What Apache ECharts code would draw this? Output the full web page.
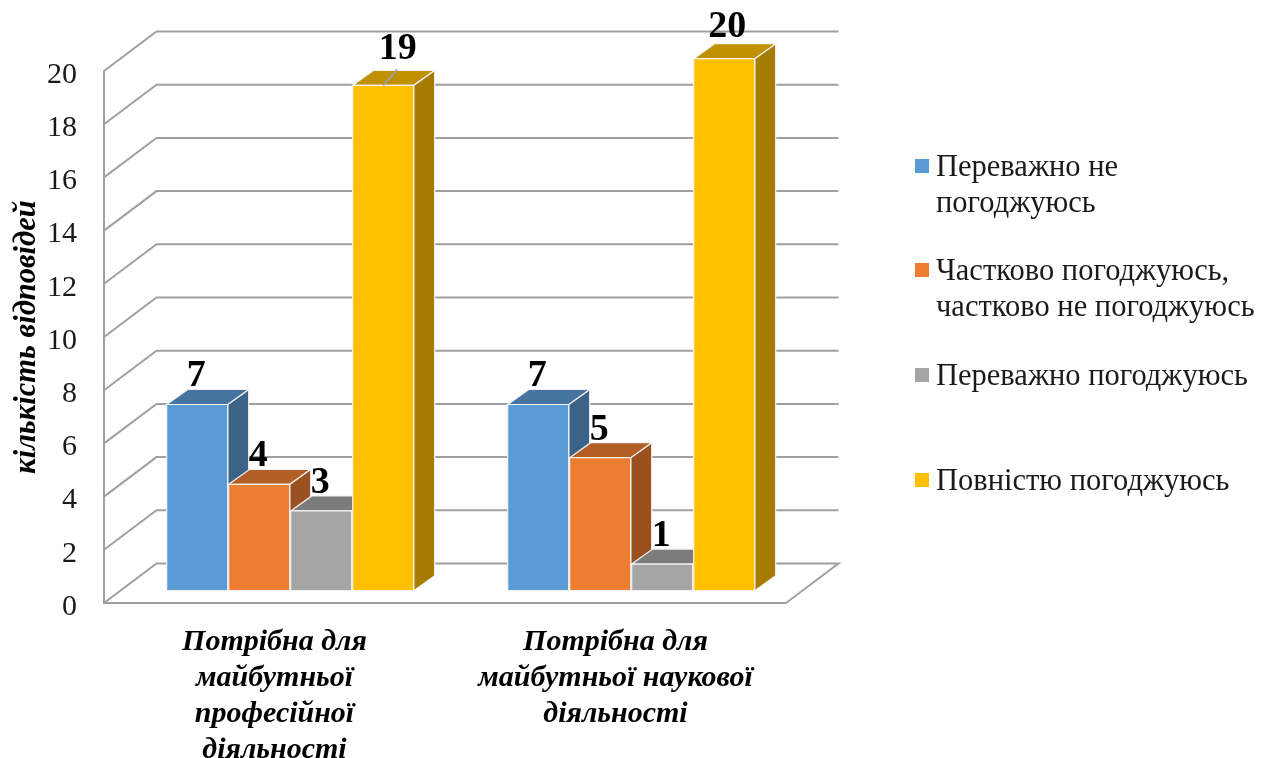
<!DOCTYPE html>
<html>
<head>
<meta charset="utf-8">
<style>
  html, body { margin: 0; padding: 0; background: #fff; }
</style>
<script src="https://cdn.jsdelivr.net/npm/echarts@6/dist/echarts.min.js"></script>
</head>
<body>
<div id="myEchart" style="width:1274px; height:758px;"></div>
<script>
var categories = ['Потрібна для\nмайбутньої\nпрофесійної\nдіяльності', 'Потрібна для\nмайбутньої наукової\nдіяльності'];
var seriesNames = ['Переважно не\nпогоджуюсь', 'Частково погоджуюсь,\nчастково не погоджуюсь', 'Переважно погоджуюсь', 'Повністю погоджуюсь'];
var disagree = [7, 7];
var partly = [4, 5];
var agree = [3, 1];
var fullyAgree = [19, 20];
var yTicks = [0, 2, 4, 6, 8, 10, 12, 14, 16, 18, 20];
var yTitle = 'кількість відповідей';

var seriesValues = [disagree, partly, agree, fullyAgree];
// front, top and side face of every bar
var faceColors = [
  ['#5B9BD5', '#44749F', '#3A6387'],
  ['#ED7D31', '#B25E25', '#9A511F'],
  ['#A5A5A5', '#7C7C7C', '#6B6B6B'],
  ['#FFC000', '#BF9000', '#A67C00']
];

var SERIF = '"Liberation Serif", serif';
var WALL = { dx: 52.5, dy: -39.5 };   // depth of the floor
var BAR_INSET = { dx: 62.7, dy: -12.3 }; // first bar, from band left on the front floor edge
var BAR_W = 62;
var BAR_DEPTH = { dx: 21, dy: -15 };
var GRID_COLOR = '#A0A0A0';

function line(points) {
  return {
    type: 'polyline',
    shape: { points: points },
    style: { fill: null, stroke: GRID_COLOR, lineWidth: 2 }
  };
}

function face(points, color) {
  return {
    type: 'polygon',
    shape: { points: points },
    style: { fill: color, stroke: '#F4F4F4', lineWidth: 1.2 }
  };
}

// back wall and side wall lines, one for each tick
function renderWall(params, api) {
  var sys = params.coordSys;
  var v = api.value(1);
  var y = api.coord([0, v])[1];
  var x0 = sys.x, x1 = sys.x + sys.width;
  var pts = [[x0, y], [x0 + WALL.dx, y + WALL.dy], [x1 + WALL.dx, y + WALL.dy]];
  if (v === 0) pts.push([x1, y]);
  return line(pts);
}

function renderBar(seriesIdx) {
  return function (params, api) {
    var cat = api.value(0);
    var v = api.value(1);
    var band = api.size([1, 0])[0];
    var p = api.coord([cat, v]);
    var base = api.coord([cat, 0]);
    var x = p[0] - band / 2 + BAR_INSET.dx + seriesIdx * BAR_W;
    var w = BAR_W - 1;
    var top = p[1] + BAR_INSET.dy;
    var bottom = base[1] + BAR_INSET.dy;
    var d = BAR_DEPTH;
    var colors = faceColors[seriesIdx];
    var cx = x + w / 2;
    var labelX = cx - 1, labelY = top - 28;
    var children = [
      face([[x + w, top], [x + w + d.dx, top + d.dy], [x + w + d.dx, bottom + d.dy], [x + w, bottom]], colors[2]),
      face([[x, top], [x + d.dx, top + d.dy], [x + w + d.dx, top + d.dy], [x + w, top]], colors[1]),
      face([[x, top], [x + w, top], [x + w, bottom], [x, bottom]], colors[0])
    ];
    if (seriesIdx === 3) {
      if (v === 19) {
        // this label was dragged off the bar, so it has a leader line
        labelX = cx + 14.5;
        labelY = top - 36;
        children.push(line([[cx, top], [cx + 14, top - 16]]));
      } else {
        labelX = cx + 3;
        labelY = top - 32;
      }
    }
    children.push({
      type: 'text',
      style: {
        text: String(v), x: labelX, y: labelY,
        align: 'center', verticalAlign: 'middle',
        font: 'bold 38px ' + SERIF, fill: '#000'
      }
    });
    return { type: 'group', children: children };
  };
}

var series = [{
  type: 'custom',
  name: 'wall',
  silent: true,
  clip: false,
  renderItem: renderWall,
  data: yTicks.map(function (t) { return [0, t]; }),
  z: 1
}];
seriesValues.forEach(function (vals, s) {
  series.push({
    type: 'custom',
    name: seriesNames[s],
    clip: false,
    renderItem: renderBar(s),
    data: vals.map(function (v, i) { return [i, v]; }),
    z: 2
  });
});

// legend, marker sits on the first line of the text
var legendGraphic = [];
seriesNames.forEach(function (name, i) {
  var y = 166 + i * 105 - (i === 0 ? 0 : 1);
  legendGraphic.push({
    type: 'rect', left: 915, top: y - 7,
    shape: { width: 14, height: 14 },
    style: { fill: faceColors[i][0] }
  });
  legendGraphic.push({
    type: 'text', left: 936, top: y - 16,
    style: { text: name, font: '30.5px ' + SERIF, lineHeight: 36, fill: '#1a1a1a' }
  });
});

var myChart = echarts.init(document.getElementById('myEchart'));
myChart.setOption({
  animation: false,
  backgroundColor: '#fff',
  grid: { left: 104, top: 71, width: 682, height: 532, outerBoundsMode: 'none' },
  xAxis: {
    type: 'category',
    data: categories,
    axisTick: { show: false },
    axisLine: { lineStyle: { color: GRID_COLOR, width: 2 } },
    axisLabel: {
      margin: 21,
      interval: 0,
      color: '#000',
      fontFamily: SERIF,
      fontSize: 30,
      fontStyle: 'italic',
      fontWeight: 'bold',
      lineHeight: 36
    }
  },
  yAxis: {
    type: 'value',
    min: 0,
    max: 20,
    interval: 2,
    splitLine: { show: false },
    axisTick: { show: false },
    axisLine: { show: true, lineStyle: { color: GRID_COLOR, width: 2 } },
    axisLabel: { margin: 27, verticalAlign: 'top', lineHeight: 8, color: '#1a1a1a', fontFamily: SERIF, fontSize: 30 },
    name: yTitle,
    nameLocation: 'middle',
    nameRotate: 90,
    nameGap: 62,
    nameMoveOverlap: false,
    nameTextStyle: { color: '#000', fontFamily: SERIF, fontSize: 30.5, fontStyle: 'italic', fontWeight: 'bold' }
  },
  graphic: legendGraphic,
  series: series
});
</script>
</body>
</html>
